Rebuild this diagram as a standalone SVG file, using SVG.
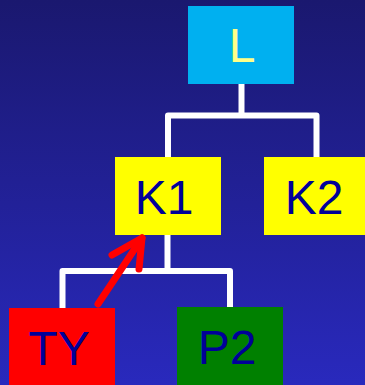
<svg xmlns="http://www.w3.org/2000/svg" width="365" height="385" viewBox="0 0 365 385">
<defs>
<linearGradient id="bg" x1="0" y1="0" x2="0" y2="1">
<stop offset="0" stop-color="#1a186f"/>
<stop offset="1" stop-color="#2929bd"/>
</linearGradient>
<style>
.lbl{font-family:"Liberation Sans",Arial,sans-serif;font-size:48px;text-anchor:middle;fill:#000099}
.conn{fill:none;stroke:#ffffff;stroke-width:6;stroke-linejoin:round}
.arrow{fill:none;stroke:#ff0000;stroke-width:7;stroke-linecap:round;stroke-linejoin:round}
</style>
</defs>
<rect width="365" height="385" fill="url(#bg)"/>
<g id="connectors">
<line class="conn" x1="241.5" y1="84" x2="241.5" y2="115.5"/>
<polyline class="conn" points="168,157 168,115.5 316.5,115.5 316.5,157"/>
<line class="conn" x1="167.5" y1="235" x2="167.5" y2="271"/>
<polyline class="conn" points="62.5,308 62.5,271 230,271 230,307"/>
</g>
<g id="L">
<rect x="188" y="6" width="106" height="78" fill="#00b0f0"/>
<text class="lbl" x="242" y="62" style="fill:#ffff88">L</text>
</g>
<g id="K1">
<rect x="115" y="157" width="106" height="78" fill="#ffff00"/>
<text class="lbl" x="164" y="214">K1</text>
</g>
<g id="K2">
<rect x="264" y="157" width="106" height="78" fill="#ffff00"/>
<text class="lbl" x="314" y="214">K2</text>
</g>
<g id="TY">
<rect x="9" y="308" width="106" height="80" fill="#ff0000"/>
<text class="lbl" x="59" y="365">TY</text>
</g>
<g id="P2">
<rect x="177" y="307" width="106" height="80" fill="#008000"/>
<text class="lbl" x="227" y="364">P2</text>
</g>
<g id="arrow">
<line class="arrow" x1="98" y1="304" x2="142" y2="238"/>
<polyline class="arrow" points="112,255 142,238 139,269"/>
</g>
</svg>
